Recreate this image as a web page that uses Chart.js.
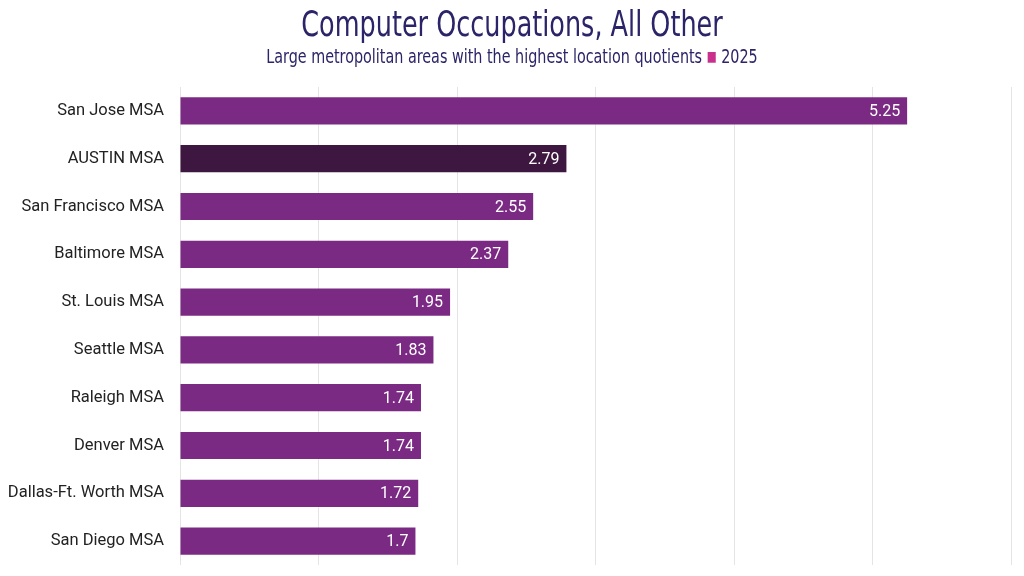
<!DOCTYPE html>
<html>
<head>
<meta charset="utf-8">
<script src="https://cdn.jsdelivr.net/npm/chart.js@4"></script>
<style>
html,body{margin:0;padding:0;background:#fff;}
#wrap{position:relative;width:1024px;height:576px;}
#hdr{position:absolute;left:0;top:0;width:1024px;text-align:center;color:#2b2468;font-family:"Liberation Sans Narrow","DejaVu Sans Condensed","Roboto",sans-serif;}
#t{font-size:35px;line-height:36px;margin-top:6px;transform:scaleX(0.81);}
#s{font-size:19px;line-height:22px;margin-top:3px;transform:scaleX(0.84);}
#s span{color:#c8308c;font-size:14px;vertical-align:2px;}
canvas{position:absolute;left:0;top:0;}
</style>
</head>
<body>
<div id="wrap">
<canvas id="c" width="1024" height="576"></canvas>
<div id="hdr"><div id="t">Computer Occupations, All Other</div><div id="s">Large metropolitan areas with the highest location quotients <span>■</span> 2025</div></div>
</div>
<script>
const categories = ["San Jose MSA","AUSTIN MSA","San Francisco MSA","Baltimore MSA","St. Louis MSA","Seattle MSA","Raleigh MSA","Denver MSA","Dallas-Ft. Worth MSA","San Diego MSA"];
const values = [5.25,2.79,2.55,2.37,1.95,1.83,1.74,1.74,1.72,1.7];
const valueLabels = ["5.25","2.79","2.55","2.37","1.95","1.83","1.74","1.74","1.72","1.7"];
const barColors = categories.map(c => c === "AUSTIN MSA" ? "#3e1741" : "#7b2a83");

const labelPlugin = {
  id: 'vals',
  afterDatasetsDraw(chart){
    const ctx = chart.ctx;
    const meta = chart.getDatasetMeta(0);
    ctx.save();
    ctx.fillStyle = '#ffffff';
    ctx.font = '16px Roboto, sans-serif';
    ctx.textAlign = 'right';
    ctx.textBaseline = 'middle';
    meta.data.forEach((bar,i) => {
      ctx.fillText(valueLabels[i], bar.x - 7, bar.y + 1);
    });
    ctx.restore();
  }
};

new Chart(document.getElementById('c'), {
  type: 'bar',
  data: {
    labels: categories,
    datasets: [{ data: values, backgroundColor: barColors, barPercentage: 0.57, categoryPercentage: 1 }]
  },
  options: {
    indexAxis: 'y',
    responsive: false,
    animation: false,
    devicePixelRatio: 1,
    layout: { padding: { top: 87, right: 13, bottom: 11, left: 0 } },
    plugins: { legend: { display: false }, tooltip: { enabled: false } },
    scales: {
      x: {
        min: 0, max: 6,
        afterFit: s => { s.height = 0; },
        ticks: { display: false, stepSize: 1 },
        grid: { color: '#e4e4e4', drawTicks: false, lineWidth: 1 },
        border: { display: false }
      },
      y: {
        afterFit: s => { s.width = 180; s.paddingTop = 0; s.paddingBottom = 0; },
        ticks: { color: '#222222', font: { family: 'Roboto, sans-serif', size: 16.5 }, padding: 16 },
        grid: { display: false, drawTicks: false },
        border: { display: false }
      }
    }
  },
  plugins: [labelPlugin]
});
</script>
</body>
</html>
